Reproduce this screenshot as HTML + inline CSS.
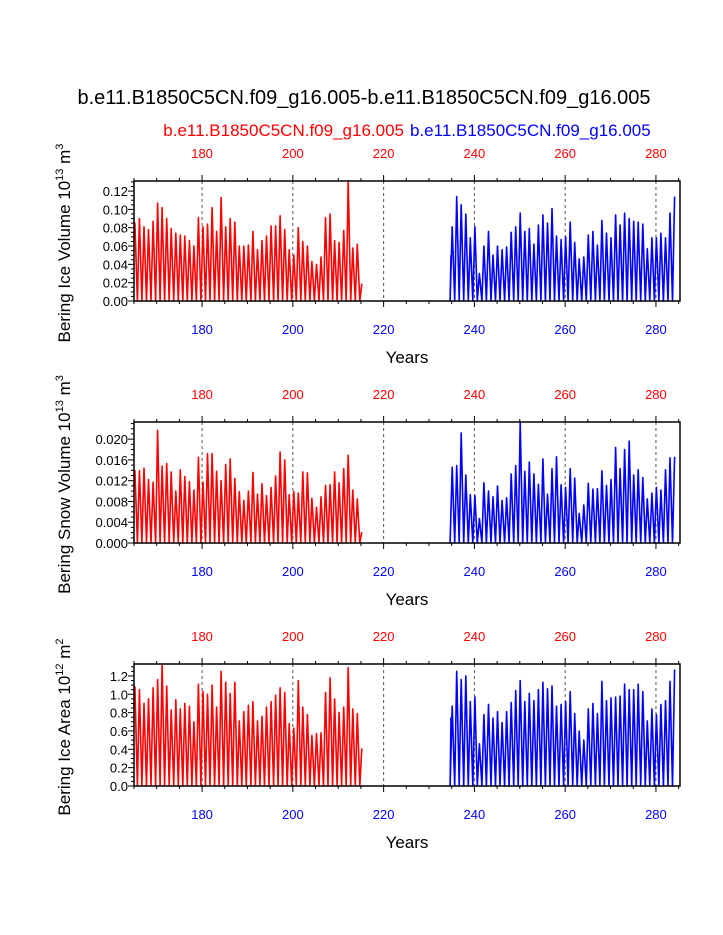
<!DOCTYPE html>
<html><head><meta charset="utf-8">
<style>
html,body{margin:0;padding:0;background:#fff;}
svg{display:block;font-family:"Liberation Sans",Arial,sans-serif;}
</style></head>
<body>
<svg id="chart" width="723" height="935" viewBox="0 0 723 935" xmlns="http://www.w3.org/2000/svg">
<text x="364" y="104" font-size="20" text-anchor="middle">b.e11.B1850C5CN.f09_g16.005-b.e11.B1850C5CN.f09_g16.005</text>
<text x="404" y="136" font-size="17" fill="#ff0000" text-anchor="end">b.e11.B1850C5CN.f09_g16.005</text>
<text x="410" y="136" font-size="17" fill="#0000ff">b.e11.B1850C5CN.f09_g16.005</text>
</svg>
<script>
// ---------- data ----------
const xTicks = [180, 200, 220, 240, 260, 280];
const redStartYear = 165.2;
const blueStartYear = 235.1;

const iceVolRed = [0.085,0.090,0.081,0.078,0.087,0.107,0.102,0.090,0.079,0.074,0.072,0.071,0.066,0.060,0.091,0.081,0.084,0.102,0.076,0.113,0.081,0.090,0.086,0.060,0.060,0.061,0.076,0.056,0.066,0.071,0.082,0.082,0.093,0.078,0.056,0.050,0.080,0.065,0.060,0.043,0.040,0.048,0.091,0.095,0.066,0.064,0.077,0.131,0.058,0.062,0.019];
const iceVolBlue = [0.081,0.114,0.105,0.095,0.069,0.081,0.030,0.060,0.076,0.050,0.060,0.056,0.059,0.075,0.081,0.096,0.076,0.079,0.062,0.083,0.094,0.085,0.101,0.071,0.067,0.070,0.086,0.064,0.046,0.048,0.072,0.076,0.061,0.088,0.074,0.069,0.094,0.083,0.096,0.090,0.087,0.086,0.084,0.057,0.069,0.069,0.074,0.069,0.096,0.114];
const iceVolTicks = ["0.00","0.02","0.04","0.06","0.08","0.10","0.12"];

const snowRed = [0.0139,0.0139,0.0144,0.0122,0.0117,0.0217,0.0148,0.0153,0.0137,0.0100,0.0141,0.0128,0.0118,0.0102,0.0165,0.0117,0.0172,0.0172,0.0138,0.0120,0.0151,0.0162,0.0124,0.0099,0.0082,0.0100,0.0136,0.0094,0.0114,0.0091,0.0107,0.0129,0.0175,0.0160,0.0093,0.0099,0.0096,0.0137,0.0135,0.0086,0.0069,0.0089,0.0111,0.0112,0.0137,0.0116,0.0143,0.0169,0.0102,0.0085,0.0021];
const snowBlue = [0.0146,0.0149,0.0212,0.0131,0.0093,0.0091,0.0047,0.0116,0.0100,0.0089,0.0110,0.0082,0.0087,0.0133,0.0149,0.0232,0.0138,0.0156,0.0133,0.0113,0.0162,0.0094,0.0143,0.0166,0.0112,0.0107,0.0143,0.0125,0.0057,0.0073,0.0115,0.0104,0.0105,0.0139,0.0111,0.0122,0.0184,0.0143,0.0180,0.0196,0.0131,0.0141,0.0126,0.0085,0.0096,0.0107,0.0102,0.0141,0.0164,0.0166];
const snowTicks = ["0.000","0.004","0.008","0.012","0.016","0.020"];

const areaRed = [1.08,1.05,0.90,0.95,1.07,1.16,1.33,1.09,0.83,0.94,0.84,0.90,0.87,0.70,1.11,1.03,1.00,1.10,0.86,1.25,1.13,1.01,1.13,0.71,0.81,0.88,0.92,0.71,0.76,0.86,0.92,0.99,1.07,1.02,0.68,0.63,1.15,0.86,0.78,0.55,0.57,0.58,1.02,1.18,0.95,0.80,0.86,1.29,0.84,0.79,0.41];
const areaBlue = [0.87,1.25,1.16,1.20,0.92,0.97,0.46,0.78,0.89,0.74,0.81,0.69,0.81,0.91,1.04,1.15,0.92,1.01,0.93,1.05,1.13,1.06,1.09,0.87,0.89,0.92,1.03,0.79,0.60,0.50,0.84,0.90,0.79,1.14,0.93,0.96,0.97,0.98,1.11,1.05,1.05,1.11,1.03,0.71,0.84,0.78,0.89,0.93,1.14,1.27];
const areaTicks = ["0.0","0.2","0.4","0.6","0.8","1.0","1.2"];

// ---------- drawing ----------
const NS = "http://www.w3.org/2000/svg";
const svg = document.getElementById('chart');
const X0 = 134, X1 = 680, YR0 = 165.0, YR1 = 285.3;
function xScale(yr){ return X0 + (yr - YR0) / (YR1 - YR0) * (X1 - X0); }
function mk(tag, attrs, parent){
  const e = document.createElementNS(NS, tag);
  for (const k in attrs) e.setAttribute(k, attrs[k]);
  (parent || svg).appendChild(e);
  return e;
}

const panels = [
  {key:'ice-volume', top:181, bottom:301, ymax:0.131, ticks:iceVolTicks, red:iceVolRed, blue:iceVolBlue, title:'Bering Ice Volume 10', exp:'13', unit:'m', uexp:'3', blueStart:0.050},
  {key:'snow-volume', top:422, bottom:543, ymax:0.0233, ticks:snowTicks, red:snowRed, blue:snowBlue, title:'Bering Snow Volume 10', exp:'13', unit:'m', uexp:'3', blueStart:0.0065},
  {key:'ice-area', top:664, bottom:786, ymax:1.33, ticks:areaTicks, red:areaRed, blue:areaBlue, title:'Bering Ice Area 10', exp:'12', unit:'m', uexp:'2', blueStart:0.75}
];

panels.forEach(p => {
  const g = mk('g', {});
  
  
  const yS = v => p.bottom - v / p.ymax * (p.bottom - p.top);

  xTicks.forEach(t => {
    const l = mk('line', {x1:xScale(t), x2:xScale(t), y1:p.top, y2:p.bottom, stroke:'#555', 'stroke-width':1, 'stroke-dasharray':'3,3'}, g);
    
    
  });

  function series(vals, start, color, name, startVal){
    let pts = [];
    if (startVal !== undefined) pts.push([xScale(start - 0.25), yS(startVal)]);
    else pts.push([X0, yS(vals[0] * 0.8)]);
    vals.forEach((v, i) => {
      const yr = start + i;
      if (i > 0 || startVal !== undefined) pts.push([xScale(yr - 0.45), yS(0)]);
      pts.push([xScale(yr), yS(v)]);
    });
    pts = pts.filter(q => q[0] <= X1 + 0.5 && q[0] >= X0 - 0.5);
    const path = mk('polyline', {points: pts.map(q => q[0].toFixed(1) + ',' + q[1].toFixed(1)).join(' '), fill:'none', stroke:color, 'stroke-width':1.6, 'stroke-linejoin':'round'}, g);
    
    
  }
  series(p.red, redStartYear, '#ff0000', p.key + '-red-series');
  series(p.blue, blueStartYear, '#0000ff', p.key + '-blue-series', p.blueStart);

  const fr = mk('rect', {x:X0, y:p.top, width:X1 - X0, height:p.bottom - p.top, fill:'none', stroke:'#000', 'stroke-width':1.5}, g);
  
  

  for (let yr = 165; yr <= 285; yr += 5) {
    const major = (yr % 20 === 0);
    const len = major ? 6 : 3;
    mk('line', {x1:xScale(yr), x2:xScale(yr), y1:p.top, y2:p.top - len, stroke:'#000', 'stroke-width':1}, g);
    mk('line', {x1:xScale(yr), x2:xScale(yr), y1:p.bottom, y2:p.bottom + len, stroke:'#000', 'stroke-width':1}, g);
  }
  xTicks.forEach(t => {
    const a = mk('text', {x:xScale(t), y:p.top - 23, 'font-size':13, fill:'#ff0000', 'text-anchor':'middle'}, g);
    a.textContent = t;
    
    
    const b = mk('text', {x:xScale(t), y:p.bottom + 33, 'font-size':13, fill:'#0000ff', 'text-anchor':'middle'}, g);
    b.textContent = t;
    
    
  });

  const step = parseFloat(p.ticks[1]) - parseFloat(p.ticks[0]);
  for (let k = 0; k * step / 4 <= p.ymax + 1e-9; k++) {
    const v = k * step / 4;
    const major = (k % 4 === 0);
    mk('line', {x1:X0, x2:X0 - (major ? 6 : 3), y1:yS(v), y2:yS(v), stroke:'#000', 'stroke-width':1}, g);
  }
  p.ticks.forEach(t => {
    const tx = mk('text', {x:X0 - 6, y:yS(parseFloat(t)) + 5, 'font-size':13, 'text-anchor':'end'}, g);
    tx.textContent = t;
    
    
  });

  const xt = mk('text', {x:407, y:p.bottom + 62, 'font-size':17, 'text-anchor':'middle'}, g);
  xt.textContent = 'Years';
  
  

  const cy = (p.top + p.bottom) / 2 + 2;
  const yt = mk('text', {x:0, y:0, 'font-size':17, 'text-anchor':'middle', transform:'translate(70,' + cy + ') rotate(-90)'}, g);
  
  
  const s1 = mk('tspan', {}, yt); s1.textContent = p.title;
  const s2 = mk('tspan', {dy:-7, 'font-size':11}, yt); s2.textContent = p.exp;
  const s3 = mk('tspan', {dy:7}, yt); s3.textContent = ' ' + p.unit;
  const s4 = mk('tspan', {dy:-7, 'font-size':11}, yt); s4.textContent = p.uexp;
});
</script>
</body></html>
